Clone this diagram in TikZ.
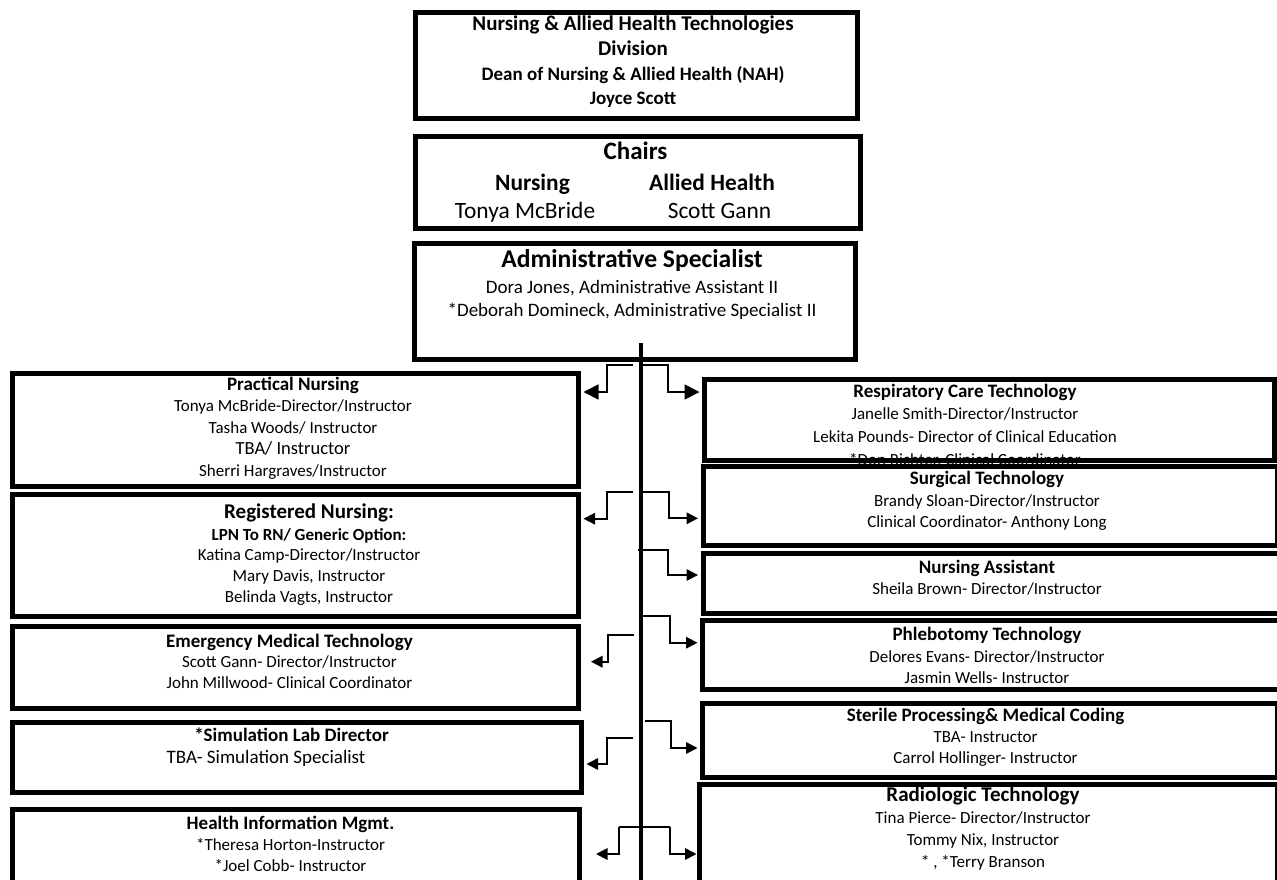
\documentclass[tikz,border=0pt]{standalone}
\usepackage{fontspec}
\setmainfont{Carlito}
\usetikzlibrary{arrows.meta}
\newcommand{\fs}[2]{\fontsize{#1}{#2}\selectfont}
\begin{document}
\begin{tikzpicture}[x=1pt,y=-1pt,
  box/.style={draw, line width=5pt, fill=white, inner sep=0pt, anchor=north west},
  txt/.style={align=center, inner sep=0pt},
  one/.style={inner sep=0pt, anchor=base},
  conn/.style={line width=1.7pt, -{Triangle[length=11.5pt,width=11.5pt]}, shorten >=2.5pt},
  connbig/.style={line width=1.7pt, -{Triangle[length=15pt,width=15pt]}, shorten >=2.5pt},
  link/.style={line width=1.7pt},
  spine/.style={line width=4pt}]
\useasboundingbox[fill=white] (0,0) rectangle (1277,879);

% ---- top boxes
\node[box, minimum width=441.5pt, minimum height=106.5pt] (dean) at (413,9.5) {};
\node[txt, font=\fs{21}{24.7}\bfseries] (deanT) at (633,62) {Nursing \& Allied Health Technologies\\Division\\{\fs{19}{24.7}Dean of Nursing \& Allied Health (NAH)}\\{\fs{19}{24.7}Joyce Scott}};

\node[box, minimum width=445pt, minimum height=92pt] (chairs) at (413,134) {};
\node[one, font=\fs{25}{30}\bfseries] (chT) at (635.5,159.7) {Chairs};
\node[one, font=\fs{23.4}{28}\bfseries] (chN) at (532.5,190.2) {Nursing};
\node[one, font=\fs{23.4}{28}\bfseries] (chA) at (712,190.2) {Allied Health};
\node[one, font=\fs{23.4}{28}] (chNn) at (525,218.2) {Tonya McBride};
\node[one, font=\fs{23.4}{28}] (chAn) at (719.5,218.2) {Scott Gann};

\node[box, minimum width=441pt, minimum height=116pt] (admin) at (412,241) {};
\node[txt, font=\fs{19}{23.4}] (adminT) at (632,284.8) {{\fs{25.6}{30}\bfseries Administrative Specialist}\\[2pt]Dora Jones, Administrative Assistant II\\{}*Deborah Domineck, Administrative Specialist II};

% ---- spine
\coordinate (sT) at (641,343);
\coordinate (sB) at (641,890);
\draw[spine] (sT) -- (sB);

% ---- left boxes
\node[box, minimum width=566pt, minimum height=113pt] (pn) at (10,370.5) {};
\node[txt, font=\fs{17}{21.5}] (pnT) at (293,428) {{\bfseries\fs{19}{21.5}Practical Nursing}\\Tonya McBride-Director/Instructor\\Tasha Woods/ Instructor\\{\fs{18.5}{21.5}TBA/ Instructor}\\Sherri Hargraves/Instructor};

\node[box, minimum width=566pt, minimum height=122pt] (rn) at (10,491.5) {};
\node[txt, font=\fs{17}{20.7}] (rnT) at (309,554.3) {{\bfseries\fs{21}{20.7}Registered Nursing:}\\[1.3pt]{\bfseries LPN To RN/ Generic Option:}\\Katina Camp-Director/Instructor\\Mary Davis, Instructor\\Belinda Vagts, Instructor};

\node[box, minimum width=566pt, minimum height=82pt] (emt) at (10,623.5) {};
\node[txt, font=\fs{17}{20.6}] (emtT) at (289.5,661) {{\bfseries\fs{19}{20.6}Emergency Medical Technology}\\Scott Gann- Director/Instructor\\John Millwood- Clinical Coordinator};

\node[box, minimum width=569pt, minimum height=70.5pt] (sim) at (10,719.5) {};
\node[one, font=\fs{19}{22}\bfseries] (simT) at (291.5,741.1) {*Simulation Lab Director};
\node[one, font=\fs{19}{22}] (simB) at (266,763.8) {TBA- Simulation Specialist};

\node[box, minimum width=567pt, minimum height=100pt] (him) at (10,807) {};
\node[txt, font=\fs{17}{21.2}] (himT) at (290.5,843.8) {{\bfseries\fs{19}{21.2}Health Information Mgmt.}\\{}*Theresa Horton-Instructor\\{}*Joel Cobb- Instructor};

% ---- right boxes
\node[box, minimum width=569.5pt, minimum height=81pt] (resp) at (702,377) {};
\node[txt, font=\fs{17}{22.7}] (respT) at (965,425.5) {{\bfseries\fs{19}{22.7}Respiratory Care Technology}\\Janelle Smith-Director/Instructor\\Lekita Pounds- Director of Clinical Education\\{}*Don Richter, Clinical Coordinator};

\node[box, minimum width=574.5pt, minimum height=78.5pt] (surg) at (700.5,464) {};
\node[txt, font=\fs{17}{21.5}] (surgT) at (987,500.8) {{\bfseries\fs{19}{21.5}Surgical Technology}\\Brandy Sloan-Director/Instructor\\Clinical Coordinator- Anthony Long};

\node[box, minimum width=590pt, minimum height=59.5pt] (na) at (700.5,551) {};
\node[txt, font=\fs{17}{21.6}] (naT) at (987,577.5) {{\bfseries\fs{19}{21.6}Nursing Assistant}\\Sheila Brown- Director/Instructor};

\node[box, minimum width=590pt, minimum height=69.5pt] (phleb) at (700,617.5) {};
\node[txt, font=\fs{17}{21.2}] (phlebT) at (987,655.5) {{\bfseries\fs{19}{21.2}Phlebotomy Technology}\\Delores Evans- Director/Instructor\\Jasmin Wells- Instructor};

\node[box, minimum width=575pt, minimum height=74.5pt] (ster) at (700,700.5) {};
\node[txt, font=\fs{17}{21.4}] (sterT) at (985.5,737.3) {{\bfseries\fs{19}{21.4}Sterile Processing\& Medical Coding}\\TBA- Instructor\\Carrol Hollinger- Instructor};

\node[box, minimum width=578.5pt, minimum height=120pt] (rad) at (696.5,781.5) {};
\node[txt, font=\fs{17}{22.2}] (radT) at (983,828.3) {{\bfseries\fs{21}{22.2}Radiologic Technology}\\Tina Pierce- Director/Instructor\\Tommy Nix, Instructor\\{}* , *Terry Branson};

% ---- connectors
\coordinate (l1) at (633,365.3);
\coordinate (r1) at (643.3,365.3);
\coordinate (l2) at (633.3,492);
\coordinate (r2) at (643.3,491.7);
\coordinate (r3) at (637.7,550.3);
\coordinate (r4) at (642.7,616);
\coordinate (l3) at (634,634.7);
\coordinate (r5) at (645,720.7);
\coordinate (l4) at (632.7,737.7);
\coordinate (hL) at (619,826.7);
\coordinate (hR) at (670,826.7);

\draw[connbig] (l1) -- ++(-26.3,0) |- (pn.east |- 0,392);
\draw[connbig] (r1) -- ++(25,0) |- (resp.west |- 0,392);
\draw[conn] (l2) -- ++(-26.6,0) |- (rn.east |- 0,518.7);
\draw[conn] (r2) -- ++(25.7,0) |- (surg.west |- 0,518.3);
\draw[conn] (r3) -- ++(30,0) |- (na.west |- 0,575);
\draw[conn] (r4) -- ++(27.3,0) |- (phleb.west |- 0,642.7);
\draw[conn, shorten >=10pt] (l3) -- ++(-26.3,0) |- (emt.east |- 0,661.7);
\draw[conn] (r5) -- ++(26,0) |- (ster.west |- 0,748);
\draw[conn] (l4) -- ++(-26,0) |- (sim.east |- 0,764);
\draw[link] (hL) -- (hR);
\draw[conn, shorten >=0pt] (hR) |- (rad.west |- 0,854);
\draw[conn, shorten >=14pt] (hL) |- (him.east |- 0,854);
\end{tikzpicture}
\end{document}
